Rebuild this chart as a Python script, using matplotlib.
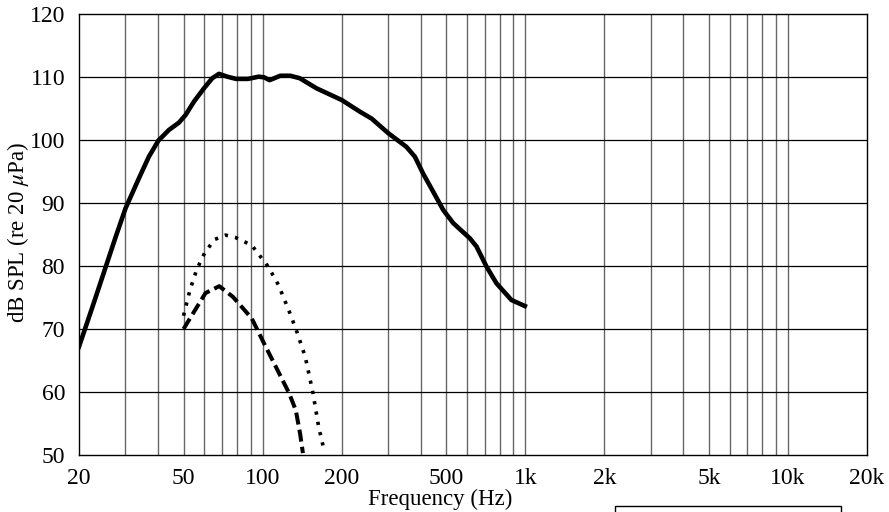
import matplotlib
matplotlib.use("Agg")
import matplotlib.pyplot as plt
from matplotlib.patches import Rectangle

plt.rcParams['font.family'] = ['Liberation Serif', 'DejaVu Serif']
plt.rcParams['mathtext.fontset'] = 'stix'

# main response (solid)
f_main = [20, 22.5, 25.3, 27.6, 30.1, 33.8, 36.9, 40.1, 44.0, 48.0, 50.9, 54.8,
          59.8, 64.3, 68.2, 73.4, 79.2, 88.0, 96.6, 101.3, 106.3, 116.8, 127.5,
          138.6, 160.5, 200, 234.6, 260, 300.6, 353, 380, 408, 446, 487, 532,
          615, 652, 712, 777, 886, 996]
db_main = [67.2, 73.5, 79.9, 84.65, 89.2, 93.9, 97.35, 99.9, 101.6, 102.75, 103.97, 106.1,
           108.2, 109.8, 110.5, 110.05, 109.7, 109.7, 110.05, 109.95, 109.5, 110.2, 110.2,
           109.8, 108.2, 106.35, 104.5, 103.4, 101.1, 98.9, 97.35, 94.7, 91.8, 88.9, 86.8,
           84.4, 83.1, 79.9, 77.25, 74.6, 73.65]

# dotted curve
f_dot = [50, 52.9, 56.1, 60.2, 65.6, 72.3, 78.6, 90.9, 105, 114.9, 127.1, 134.9,
         145.3, 155.6, 163.4, 170.9]
db_dot = [72.1, 76.2, 79.4, 82.1, 84.2, 84.9, 84.55, 83.3, 79.9, 77.0, 72.5, 69.6,
          65.6, 59.8, 54.5, 51.0]

# dashed curve
f_dash = [50, 54.4, 60.6, 68.4, 77.1, 90.9, 101.3, 113.9, 126.2, 133.8, 138.9, 142.4]
db_dash = [70.0, 72.5, 75.7, 76.8, 75.1, 71.7, 67.7, 63.5, 59.8, 57.1, 53.4, 50.3]

xticks = [20, 50, 100, 200, 500, 1000, 2000, 5000, 10000, 20000]
xtick_labels = ['20', '50', '100', '200', '500', '1k', '2k', '5k', '10k', '20k']
yticks = [50, 60, 70, 80, 90, 100, 110, 120]

fig = plt.figure(figsize=(8.89, 5.12), dpi=100)
ax = fig.add_axes([79 / 889, 1 - 455 / 512, 788 / 889, 441 / 512])
ax.set_xscale('log')
ax.set_xlim(20, 20000)
ax.set_ylim(50, 120)

# grid: vertical lines at 1..9 x decade, horizontal every 10 dB
vlines = [m * 10 ** d for d in range(1, 5) for m in range(1, 10)]
vlines = [v for v in vlines if 20 < v < 20000]
for v in vlines:
    ax.axvline(v, color='0.4', lw=1.0, zorder=1)
for y in yticks[1:-1]:
    ax.axhline(y, color='black', lw=0.9, zorder=1)

ax.plot(f_main, db_main, color='black', lw=3.3, solid_joinstyle='round', zorder=3)
ax.plot(f_dot, db_dot, color='black', lw=2.6, linestyle=(0, (0.9, 2.0)), zorder=3)
ax.plot(f_dash, db_dash, color='black', lw=2.9, linestyle=(0, (3.0, 1.3)), zorder=3)

ax.set_xticks(xticks)
ax.set_xticklabels(xtick_labels)
ax.xaxis.set_minor_locator(matplotlib.ticker.NullLocator())
ax.set_yticks(yticks)
ax.tick_params(length=0, labelsize=17, pad=9, colors='black')
ax.tick_params(axis='y', pad=10)
for s in ax.spines.values():
    s.set_linewidth(1.0)
    s.set_color('black')

ax.set_ylabel(r'dB SPL (re 20 $\mu$Pa)', fontsize=16.5)
ax.yaxis.set_label_coords(-0.061, 0.505)
fig.text(440 / 889, 1 - 499 / 512, 'Frequency (Hz)', fontsize=16.5,
         ha='center', va='center')

# empty (clipped) legend box
fig.patches.append(Rectangle((615 / 889, -0.05), 226 / 889, 0.05 + 6 / 512,
                             transform=fig.transFigure, fill=False,
                             edgecolor='black', lw=1.0))

fig.savefig('out.png', dpi=100)
